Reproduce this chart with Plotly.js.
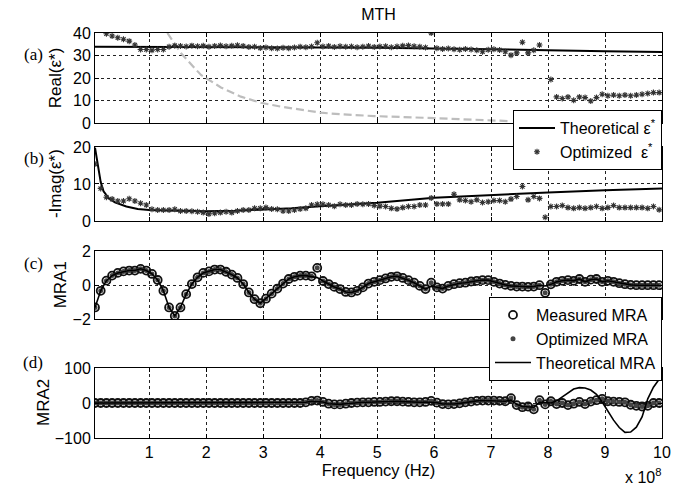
<!DOCTYPE html>
<html>
<head>
<meta charset="utf-8">
<script src="https://cdn.plot.ly/plotly-3.0.1.min.js"></script>
<style>
  html, body { margin: 0; padding: 0; background: #fff; }
  #chart { width: 686px; height: 491px; }
</style>
</head>
<body>
<div id="chart"></div>
<script>
// Frequency samples, in units of 1e8 Hz
const freq = [
  0.05,0.15,0.25,0.35,0.45,0.55,0.65,0.75,0.85,0.95,
  1.05,1.15,1.25,1.35,1.45,1.55,1.65,1.75,1.85,1.95,
  2.05,2.15,2.25,2.35,2.45,2.55,2.65,2.75,2.85,2.95,
  3.05,3.15,3.25,3.35,3.45,3.55,3.65,3.75,3.85,3.95,
  4.05,4.15,4.25,4.35,4.45,4.55,4.65,4.75,4.85,4.95,
  5.05,5.15,5.25,5.35,5.45,5.55,5.65,5.75,5.85,5.95,
  6.05,6.15,6.25,6.35,6.45,6.55,6.65,6.75,6.85,6.95,
  7.05,7.15,7.25,7.35,7.45,7.55,7.65,7.75,7.85,7.95,
  8.05,8.15,8.25,8.35,8.45,8.55,8.65,8.75,8.85,8.95,
  9.05,9.15,9.25,9.35,9.45,9.55,9.65,9.75,9.85,9.95
];

// Optimized permittivity, real part
const realOpt = [
  null, null, 39.7, 38.7, 37.9, 37.2, 36.4, 34.7, 32.7, 32.7,
  32.4, 32.7, 32.7, 33.9, 34.4, 34.2, 34.0, 34.4, 34.1, 34.3,
  33.9, 34.2, 34.5, 34.1, 34.3, 34.6, 34.2, 33.8, 33.9, 33.4,
  33.6, 33.2, 33.1, 33.5, 33.3, 33.6, 33.9, 33.7, 34.0, 35.7,
  34.0, 34.2, 33.8, 34.1, 33.9, 34.0, 33.7, 33.9, 34.2, 33.8,
  34.0, 34.1, 33.7, 34.0, 34.3, 34.5, 34.1, 33.9, 33.6, 40.0,
  33.2, 32.9, 33.1, 32.8, 32.6, 32.9, 32.7, 32.4, 31.7, 32.6,
  32.8, 32.5, 31.7, 30.2, 31.2, 35.9, 31.2, 32.4, 34.7, null,
  19.4, 11.7, 11.0, 11.7, 10.2, 11.7, 11.4, 9.9, 11.4, 12.9,
  12.2, 12.5, 12.2, 12.5, 12.2, 12.5, 12.9, 13.2, 13.6, 13.6
];

// Optimized permittivity, negative imaginary part
const imagOpt = [
  15.4, 8.8, 6.4, 5.9, 5.4, 5.4, 6.0, 5.4, 4.8, 4.3,
  3.15, 2.97, 2.97, 2.97, 3.15, 2.7, 2.7, 2.6, 2.5, 2.25,
  1.9, 2.1, 2.25, 2.5, 2.25, 2.7, 2.97, 2.97, 3.4, 3.4,
  3.6, 3.25, 3.15, 2.7, 2.7, 2.97, 3.25, 3.4, 4.3, 4.5,
  4.5, 4.3, 4.0, 4.5, 4.3, 4.3, 4.6, 4.5, 4.6, 4.15,
  4.0, 3.9, 3.4, 3.25, 3.6, 3.9, 3.9, 4.3, 4.3, 6.2,
  4.6, 4.6, 4.6, 7.2, 5.7, 5.5, 5.2, 5.7, 5.0, 5.2,
  5.5, 5.5, 5.2, 5.9, 6.6, 9.3, 5.7, 6.6, 6.1, 1.0,
  3.9, 3.9, 4.15, 3.6, 3.4, 3.6, 3.4, 3.6, 3.9, 3.4,
  3.6, 4.15, 3.6, 3.6, 3.6, 3.6, 3.6, 3.4, 3.9, 3.0
];

// Theoretical permittivity curve
const theoFreq = [0.05, 0.1, 0.15, 0.2, 0.3, 0.4, 0.6, 0.8, 1.0, 1.5, 2.0, 2.5, 3.0, 3.5, 4.0, 5.0, 6.0, 7.0, 8.0, 9.0, 10.0];
const realTheo = [33.9, 33.9, 33.9, 33.9, 33.9, 33.9, 33.9, 33.9, 33.9, 33.8, 33.8, 33.8, 33.7, 33.7, 33.6, 33.5, 33.2, 32.8, 32.4, 31.9, 31.6];
const imagTheo = [19.8, 15.5, 10.5, 8.0, 6.0, 5.0, 3.9, 3.25, 2.95, 2.75, 2.6, 2.75, 3.1, 3.4, 4.0, 4.9, 6.3, 7.1, 7.7, 8.3, 8.8];

// Grey reference curve in panel (a)
const refFreq = [1.32, 1.56, 1.91, 2.26, 2.61, 2.96, 3.31, 3.66, 4.01, 4.37, 4.95, 6.0, 6.93, 7.3];
const refReal = [40, 31, 21.4, 15.9, 11.8, 9.1, 7.4, 5.9, 4.7, 4.0, 3.2, 2.3, 1.2, 1.0];

// Magnitude ratio, port 1
const mra1Meas = [
  -1.32, -0.33, 0.27, 0.57, 0.73, 0.82, 0.87, 0.87, 0.97, 0.87,
  0.67, 0.31, -0.33, -1.32, -1.82, -1.32, -0.53, 0.07, 0.47, 0.73,
  0.82, 0.93, 0.93, 0.8, 0.63, 0.43, 0.07, -0.43, -0.83, -1.07,
  -0.8, -0.5, -0.2, 0.1, 0.37, 0.5, 0.57, 0.57, 0.53, 1.03,
  0.25, 0.07, -0.1, -0.23, -0.4, -0.43, -0.33, -0.13, 0.1, 0.2,
  0.3, 0.4, 0.5, 0.53, 0.43, 0.3, 0.15, -0.04, -0.23, 0.15,
  -0.13, -0.2, -0.04, 0.06, 0.12, 0.15, 0.22, 0.26, 0.3, 0.3,
  0.2, 0.1, 0.02, -0.04, -0.08, -0.08, -0.1, -0.08, 0.0, -0.45,
  0.05, 0.2, 0.26, 0.3, 0.26, 0.37, 0.2, 0.33, 0.37, 0.2,
  0.26, 0.2, 0.12, 0.06, 0.02, 0.0, 0.0, 0.0, 0.0, 0.0
];
const mra1Theo = [
  -1.32, -0.33, 0.27, 0.57, 0.73, 0.82, 0.87, 0.87, 0.97, 0.87,
  0.67, 0.31, -0.33, -1.32, -1.82, -1.32, -0.53, 0.07, 0.47, 0.73,
  0.82, 0.93, 0.93, 0.8, 0.63, 0.43, 0.07, -0.43, -0.83, -1.07,
  -0.8, -0.5, -0.2, 0.1, 0.37, 0.5, 0.57, 0.57, 0.53, 0.45,
  0.25, 0.07, -0.1, -0.23, -0.4, -0.43, -0.33, -0.13, 0.1, 0.2,
  0.3, 0.4, 0.5, 0.53, 0.43, 0.3, 0.15, -0.04, -0.23, -0.05,
  -0.13, -0.2, -0.04, 0.06, 0.12, 0.15, 0.22, 0.26, 0.3, 0.3,
  0.2, 0.1, 0.02, -0.04, -0.08, -0.08, -0.1, -0.08, 0.0, -0.05,
  0.05, 0.2, 0.26, 0.3, 0.26, 0.37, 0.2, 0.33, 0.37, 0.2,
  0.26, 0.2, 0.12, 0.06, 0.02, 0.0, 0.0, 0.0, 0.0, 0.0
];

// Magnitude ratio, port 2
const mra2Meas = [
  0, 0, 0, 0, 0, 0, 0, 0, 0, 0,
  0, 0, 0, 0, 0, 0, 0, 0, 0, 0,
  0, 0, 0, 0, 0, 0, 0, 0, 0, 0,
  0, 0, 0, 0, 0, 0, 0, 2, 6, 7,
  3, -2, -4, -4, -2, 0, 1, 2, 2, 3,
  3, 4, 5, 5, 4, 3, 2, 2, 3, 6,
  1, -3, -4, -3, -1, 2, 4, 6, 7, 7,
  7, 6, 5, 14, -6, -12, -10, -18, 8, -4,
  5, -3, 0, -6, -2, 3, -3, 4, 8, 12,
  5, 4, 3, 2, -5, -8, -10, -8, 0, 0
];
const mra2Theo = [
  0, 0, 0, 0, 0, 0, 0, 0, 0, 0,
  0, 0, 0, 0, 0, 0, 0, 0, 0, 0,
  0, 0, 0, 0, 0, 0, 0, 0, 0, 0,
  0, 0, 0, 0, 0, 0, 0, 2, 5, 5,
  3, -2, -4, -4, -2, 0, 1, 2, 2, 3,
  3, 4, 5, 5, 4, 3, 2, 2, 3, 3,
  1, -3, -4, -3, -1, 2, 4, 6, 7, 7,
  7, 6, 5, 8, -4, -10, -10, -12, 2, 0,
  0, 6, 18, 30, 40, 44, 43, 37, 25, 3,
  -22, -49, -70, -84, -83, -69, -40, 12, 45, 68
];

const FONT = 'Liberation Sans, Arial, sans-serif';
const SERIF = 'Liberation Serif, Times New Roman, serif';

const xMark = {symbol: 'asterisk-open', size: 5, color: '#333', line: {width: 1.1, color: '#333'}};
const circMark = {symbol: 'circle-open', size: 8, color: '#111', line: {width: 1.8, color: '#111'}};
const dotMark = {symbol: 'circle', size: 5, color: '#444'};

const traces = [
  // (a) real part
  {x: refFreq, y: refReal, xaxis: 'x', yaxis: 'y', mode: 'lines', showlegend: false,
   line: {color: '#bdbdbd', width: 2.2, dash: '8px,4px'}},
  {x: theoFreq, y: realTheo, xaxis: 'x', yaxis: 'y', mode: 'lines', name: 'Theoretical ε<sup>*</sup>',
   legend: 'legend', line: {color: '#000', width: 2}},
  {x: freq, y: realOpt, xaxis: 'x', yaxis: 'y', mode: 'markers', name: 'Optimized\u00a0 ε<sup>*</sup>',
   legend: 'legend', marker: xMark},
  // (b) imaginary part
  {x: theoFreq, y: imagTheo, xaxis: 'x2', yaxis: 'y2', mode: 'lines', showlegend: false,
   line: {color: '#000', width: 2}},
  {x: freq, y: imagOpt, xaxis: 'x2', yaxis: 'y2', mode: 'markers', showlegend: false, marker: xMark},
  // (c) MRA1
  {x: freq, y: mra1Meas, xaxis: 'x3', yaxis: 'y3', mode: 'markers', name: 'Measured MRA',
   legend: 'legend2', marker: circMark},
  {x: freq, y: mra1Meas, xaxis: 'x3', yaxis: 'y3', mode: 'markers', name: 'Optimized MRA',
   legend: 'legend2', marker: dotMark},
  {x: freq, y: mra1Theo, xaxis: 'x3', yaxis: 'y3', mode: 'lines', name: 'Theoretical MRA',
   legend: 'legend2', line: {color: '#000', width: 1.6}},
  // (d) MRA2
  {x: freq, y: mra2Meas, xaxis: 'x4', yaxis: 'y4', mode: 'markers', showlegend: false, marker: circMark},
  {x: freq, y: mra2Meas, xaxis: 'x4', yaxis: 'y4', mode: 'markers', showlegend: false, marker: dotMark},
  {x: freq, y: mra2Theo, xaxis: 'x4', yaxis: 'y4', mode: 'lines', showlegend: false,
   line: {color: '#000', width: 1.6}}
];

const axBase = {
  showline: true, mirror: 'ticks', linecolor: '#000', linewidth: 1,
  ticks: 'inside', ticklen: 4, tickcolor: '#000',
  showgrid: true, gridcolor: '#222', griddash: 'dot', gridwidth: 1,
  zeroline: false, tickfont: {family: FONT, size: 16, color: '#000'}
};
function xax(anchor, labels) {
  return Object.assign({}, axBase, {
    anchor: anchor, range: [0.05, 10], tick0: 0, dtick: 1,
    showticklabels: labels, matches: anchor === 'y' ? undefined : 'x'
  });
}
function yax(dom, range, dtick) {
  return Object.assign({}, axBase, {domain: dom, range: range, dtick: dtick, tick0: 0});
}

const legendBase = {
  x: 1, xanchor: 'right', yanchor: 'top', bgcolor: '#fff',
  bordercolor: '#000', borderwidth: 1, font: {family: FONT, size: 16, color: '#000'},
  itemwidth: 36, tracegroupgap: 0
};

const panelFont = {family: SERIF, size: 17, color: '#000'};
const titleFont = {family: FONT, size: 17, color: '#000'};
function yTitle(text, x, y) {
  return {text: text, xref: 'paper', yref: 'paper', x: x, y: y, textangle: -90,
          xanchor: 'center', yanchor: 'middle', showarrow: false, font: titleFont};
}

const layout = {
  width: 686, height: 491,
  margin: {l: 95, r: 24, t: 33, b: 53},
  paper_bgcolor: '#fff', plot_bgcolor: '#fff',
  font: {family: FONT, color: '#000'},
  title: {text: 'MTH', font: {family: FONT, size: 16, color: '#000'},
          x: 0.5, xref: 'paper', y: 1 - 14 / 491, yref: 'container', yanchor: 'middle'},
  xaxis: xax('y', false),
  xaxis2: xax('y2', false),
  xaxis3: xax('y3', false),
  xaxis4: Object.assign(xax('y4', true), {
    title: {text: 'Frequency (Hz)', font: {family: FONT, size: 16.5, color: '#000'}, standoff: 4}
  }),
  yaxis: yax([0.777, 1], [0, 40], 10),
  yaxis2: yax([0.536, 0.7185], [0, 20], 10),
  yaxis3: yax([0.294, 0.4605], [-2, 2], 2),
  yaxis4: yax([0, 0.1728], [-100, 100], 100),
  legend: Object.assign({}, legendBase, {y: (438 - 110) / 405}),
  legend2: Object.assign({}, legendBase, {y: (438 - 297) / 405}),
  annotations: [
    yTitle('Real(ε*)', -0.0705, 0.8885),
    yTitle('-Imag(ε*)', -0.0705, 0.627),
    yTitle('MRA1', -0.0617, 0.377),
    yTitle('MRA2', -0.0917, 0.0864),
    {text: '(a)', xref: 'paper', yref: 'paper', x: -0.128, y: 0.975, showarrow: false, font: panelFont},
    {text: '(b)', xref: 'paper', yref: 'paper', x: -0.128, y: 0.7185, showarrow: false, font: panelFont},
    {text: '(c)', xref: 'paper', yref: 'paper', x: -0.128, y: 0.432, showarrow: false, font: panelFont},
    {text: '(d)', xref: 'paper', yref: 'paper', x: -0.13, y: 0.158, showarrow: false, font: panelFont},
    {text: 'x 10<sup>8</sup>', xref: 'paper', yref: 'paper', x: 0.931, xanchor: 'left',
     y: -0.094, yanchor: 'middle', showarrow: false, font: {family: FONT, size: 16, color: '#000'}}
  ]
};

Plotly.newPlot('chart', traces, layout, {displayModeBar: false, staticPlot: true});
</script>
</body>
</html>
